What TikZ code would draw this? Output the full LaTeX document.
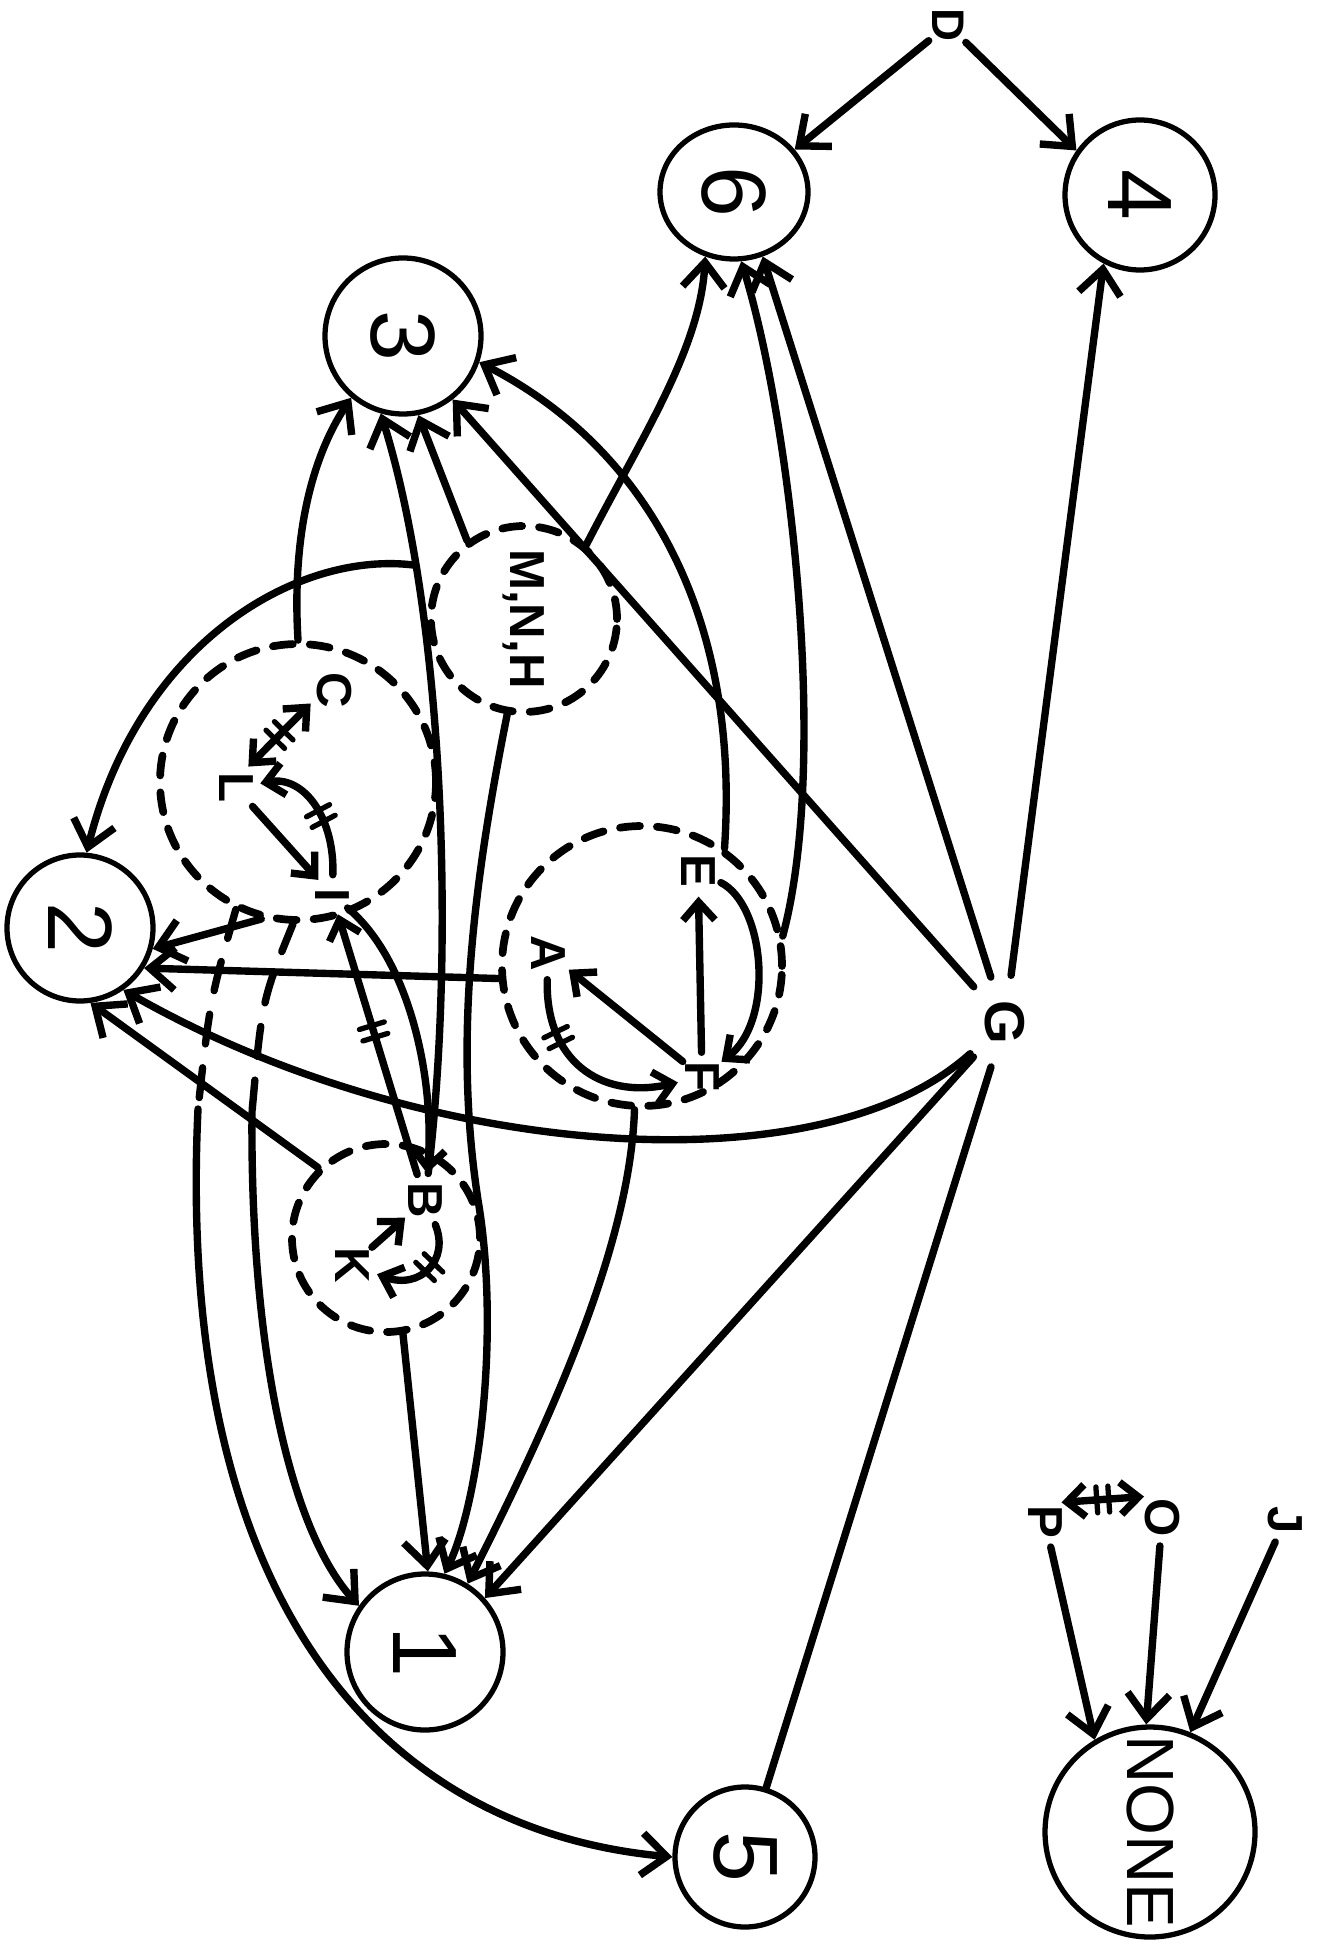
\documentclass[tikz,border=0pt]{standalone}
\usepackage{fontspec}
\setmainfont{Liberation Sans}
\usepackage{graphicx}
\usetikzlibrary{arrows.meta,shapes.geometric,decorations.markings}

\newcommand{\vtxt}[1]{\rotatebox{-90}{#1}}

\tikzset{
  numnode/.style={draw, circle, line width=1.5pt, inner sep=0pt, font=\fontsize{26}{26}\selectfont},
  grpnode/.style={draw, circle, line width=2.2pt, dash pattern=on 2mm off 1.7mm, inner sep=0pt},
  ltr/.style={circle, inner sep=0.1mm, font=\fontsize{14}{14}\selectfont\bfseries},
  plainconn/.style={line width=2.1pt},
  conn/.style={plainconn, ->},
  smalltip/.style={>={Straight Barb[length=1.8mm, width=3.2mm]}},
  dashconn/.style={plainconn, dash pattern=on 3mm off 2.4mm},
  dbltick/.style={postaction={decorate, decoration={markings,
      mark=at position #1 with {\draw[-, solid, line width=1.5pt]
        (-0.6mm,-1.3mm) -- (-0.6mm,1.3mm) (0.6mm,-1.3mm) -- (0.6mm,1.3mm);}}}},
  dbltick/.default=0.5
}

\begin{document}
\begin{tikzpicture}[x=0.1mm, y=0.1mm, line cap=round,
    >={Straight Barb[length=2.5mm, width=4.2mm]}]
\useasboundingbox (0,0) rectangle (1318,-1945);

\node[grpnode, minimum size=18.6mm, font=\fontsize{14}{14}\selectfont\bfseries] (mnh) at (524,-619) {\vtxt{M,N,H}};
\node[grpnode, minimum size=27.6mm] (cli) at (298,-782) {};
\node[grpnode, minimum size=28mm] (aef) at (642,-966) {};
\node[grpnode, minimum size=18.8mm] (bk) at (386,-1238) {};

\node[numnode, ellipse, minimum width=14.8mm, minimum height=13.4mm] (six) at (734,-192) {\vtxt{6}};
\node[numnode, minimum size=15mm] (four) at (1140,-195) {\vtxt{4}};
\node[numnode, minimum size=15.6mm] (three) at (403,-336) {\vtxt{3}};
\node[numnode, minimum size=14.6mm] (two) at (80,-928) {\vtxt{2}};
\node[numnode, minimum size=15.6mm] (one) at (425,-1652) {\vtxt{1}};
\node[numnode, minimum size=14mm] (five) at (745,-1857) {\vtxt{5}};
\node[numnode, minimum size=21mm, font=\fontsize{19}{19}\selectfont] (none) at (1150,-1832) {\vtxt{NONE}};

\node[ltr, font=\fontsize{13}{13}\selectfont\bfseries] (D) at (948,-25) {\vtxt{D}};
\node[ltr, inner sep=1.2mm, font=\fontsize{16}{16}\selectfont\bfseries] (G) at (1005,-1022) {\vtxt{G}};
\node[ltr] (C) at (334,-690) {\vtxt{C}};
\node[ltr] (L) at (236,-788) {\vtxt{L}};
\node[ltr] (I) at (332,-895) {\vtxt{I}};
\node[ltr] (A) at (548,-953) {\vtxt{A}};
\node[ltr] (E) at (698,-871) {\vtxt{E}};
\node[ltr] (F) at (702,-1077) {\vtxt{F}};
\node[ltr] (B) at (425,-1200) {\vtxt{B}};
\node[ltr] (K) at (352,-1265) {\vtxt{K}};
\node[ltr] (P) at (1045,-1522) {\vtxt{P}};
\node[ltr] (O) at (1162,-1518) {\vtxt{O}};
\node[ltr] (J) at (1285,-1520) {\vtxt{J}};

\coordinate (k1) at (252,-1112);
\coordinate (k5) at (198,-1109);

\draw[conn] (D) -- (six.35);
\draw[conn] (D) -- (four.145);
\draw[conn] (G) -- (four.-118);
\draw[conn] (G) -- (six.-66);
\draw[conn] (G) -- (three.-52);
\draw[conn] (G) -- (one.42);
\draw[plainconn] (G) -- (five.73);
\draw[conn] (G) .. controls (820,-1190) and (420,-1160) .. (two.-55);

\draw[conn] (aef.12) .. controls (830,-760) and (790,-420) .. (six.-84);
\draw[conn] (mnh.50) .. controls (640,-440) and (700,-350) .. (six.-114);
\draw[conn] (aef.55) .. controls (740,-620) and (650,-450) .. (three.-19);
\draw[conn] (mnh.126) -- (three.-79);
\draw[conn] (B) .. controls (455,-950) and (445,-620) .. (three.254) coordinate[pos=0.78] (bsplit);
\draw[conn] (cli.90) .. controls (292,-540) and (310,-460) .. (three.230);

\draw[conn] (bsplit) .. controls (300,-550) and (140,-640) .. (two.85);
\draw[conn] (cli.255) -- (two.-16);
\draw[conn] (aef.185) -- (two.-32);
\draw[conn] (bk.134) -- (two.-82);

\draw[dashconn] (cli.268) .. controls (262,-1000) .. (k1);
\draw[conn] (k1) .. controls (250,-1350) and (290,-1530) .. (one.145);
\draw[dashconn] (cli.244) .. controls (210,-1000) .. (k5);
\draw[conn] (k5) .. controls (175,-1600) and (380,-1830) .. (five.180);

\draw[conn] (bk.-80) -- (one.88);
\draw[conn] (mnh.-100) .. controls (470,-900) and (455,-1050) .. (478,-1200)
  .. controls (500,-1330) and (480,-1500) .. (one.76);
\draw[conn] (aef.-93) .. controls (630,-1250) and (545,-1430) .. (one.58);

\draw[conn, smalltip, <->, dbltick] (L.60) -- (C.210);
\draw[conn, smalltip] (L) -- (I);
\draw[conn, smalltip, dbltick=0.45] (I) .. controls (335,-820) and (305,-775) .. (L);
\draw[conn, smalltip, dbltick=0.55] (B) -- (I);
\draw[conn, smalltip] (I) .. controls (410,-960) and (435,-1080) .. (B);

\draw[conn, smalltip] (F) -- (A);
\draw[conn, smalltip] (F) -- (E);
\draw[conn, smalltip] (E) .. controls (765,-905) and (775,-1020) .. (F);
\draw[conn, smalltip, dbltick=0.3] (A) .. controls (545,-1060) and (600,-1100) .. (F);

\draw[conn, smalltip] (K) -- (B);
\draw[conn, smalltip, dbltick=0.45] (B) .. controls (450,-1260) and (420,-1290) .. (K);

\draw[conn] (P) -- (none.121);
\draw[conn] (O) -- (none.92);
\draw[conn] (J) -- (none.68);
\draw[conn, smalltip, <->, dbltick] (P.50) -- (O.130);
\end{tikzpicture}
\end{document}
